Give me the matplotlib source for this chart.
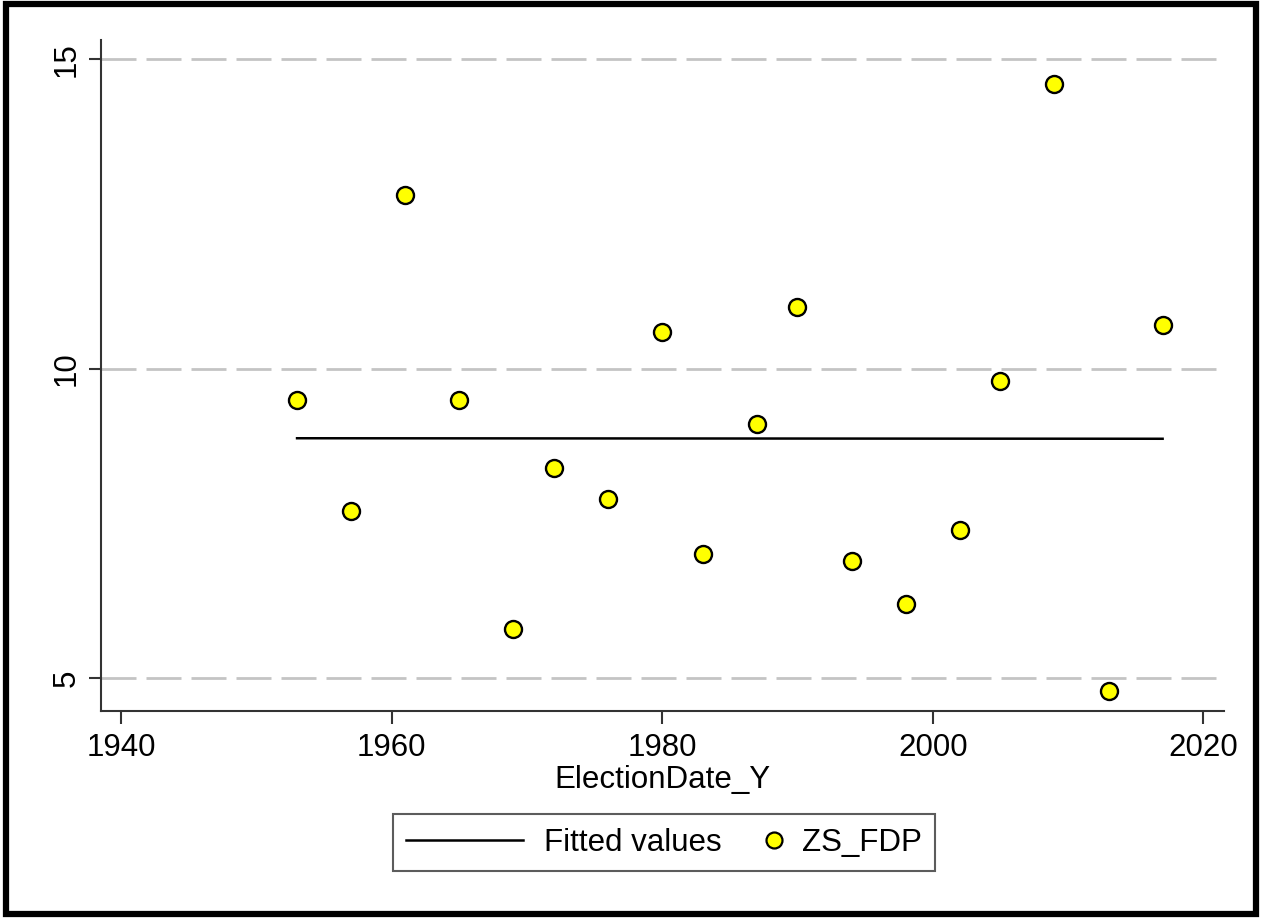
import matplotlib.pyplot as plt
import numpy as np
from matplotlib.patches import Rectangle
from matplotlib.lines import Line2D
from matplotlib.legend_handler import HandlerBase

years = [1953, 1957, 1961, 1965, 1969, 1972, 1976, 1980, 1983, 1987,
         1990, 1994, 1998, 2002, 2005, 2009, 2013, 2017]
zs_fdp = [9.5, 7.7, 12.8, 9.5, 5.8, 8.4, 7.9, 10.6, 7.0, 9.1,
          11.0, 6.9, 6.2, 7.4, 9.8, 14.6, 4.8, 10.7]
xticks = [1940, 1960, 1980, 2000, 2020]
yticks = [5, 10, 15]

plt.rcParams['font.family'] = ['Liberation Sans', 'DejaVu Sans']
FS = 22.5


class MarkerRight(HandlerBase):
    # put the marker at the right end of its handle box
    def create_artists(self, legend, orig_handle, xdescent, ydescent,
                       width, height, fontsize, trans):
        x = width - xdescent - 5
        y = height / 2 - ydescent
        ln = Line2D([x], [y], ls='none', marker='o', markersize=11.5,
                    markerfacecolor='#ffff00', markeredgecolor='black',
                    markeredgewidth=1.6, transform=trans)
        return [ln]


fig = plt.figure(figsize=(12.62, 9.18), dpi=100)
ax = fig.add_axes([0.080, 0.2255, 0.890, 0.7309])

# fitted values (linear fit)
slope, icpt = np.polyfit(years, zs_fdp, 1)
xs = np.array([min(years), max(years)])
fit_line, = ax.plot(xs, icpt + slope * xs, color='black', lw=1.8, zorder=3)
pts = ax.scatter(years, zs_fdp, s=150, facecolor='#ffff00', edgecolor='black',
                 linewidth=1.7, zorder=4)

for y in yticks:
    ax.axhline(y, color='#c4c4c4', lw=2, dashes=(12.6, 3.6), zorder=1)

ax.set_xlim(1938.5, 2021.55)
ax.set_ylim(4.47, 15.31)
ax.set_xticks(xticks)
ax.set_yticks(yticks)
ax.set_yticklabels([str(t) for t in yticks], rotation=90, va='center')
ax.tick_params(axis='both', labelsize=FS, length=9, width=1.5, color='#333333')
ax.tick_params(axis='x', pad=7)
ax.tick_params(axis='y', pad=5)
for s in ['top', 'right']:
    ax.spines[s].set_visible(False)
for s in ['left', 'bottom']:
    ax.spines[s].set_linewidth(1.5)
    ax.spines[s].set_color('#333333')

ax.set_xlabel('ElectionDate_Y', fontsize=FS, labelpad=1)

px = FS * 100 / 72
leg = fig.legend([fit_line, pts], ['Fitted values', 'ZS_FDP'],
                 handler_map={pts: MarkerRight()},
                 loc='center', bbox_to_anchor=(0.5262, 0.0822), ncol=2,
                 fontsize=FS, frameon=True, fancybox=False, edgecolor='#333333',
                 handlelength=117 / px, columnspacing=-57 / px,
                 handletextpad=21 / px, borderpad=0.42, borderaxespad=0)
leg.get_frame().set_linewidth(1.5)

# outer border
fig.patches.append(Rectangle((0.005, 0.004), 0.99, 0.992, transform=fig.transFigure,
                             fill=False, edgecolor='black', lw=4.5))

fig.savefig('out.png', dpi=100)
